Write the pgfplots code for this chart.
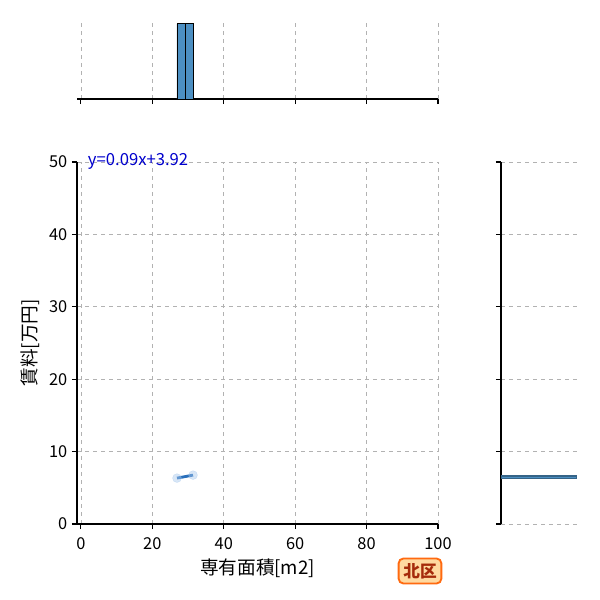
\documentclass[border=0pt]{standalone}
\usepackage{pgfplots}
\pgfplotsset{compat=1.18}
\usepackage{fontspec}
\setmainfont{Noto Sans CJK JP}
\definecolor{histblue}{HTML}{4C8FC2}
\definecolor{lineblue}{HTML}{2A6FBB}
\definecolor{ptblue}{HTML}{A8C8EC}
\definecolor{boxfill}{HTML}{FFD9A0}
\definecolor{boxedge}{HTML}{FF6A10}
\definecolor{boxtext}{HTML}{A52A0A}
\pgfplotsset{
  jp/.style={
    scale only axis,
    /pgf/number format/assume math mode=true,
    tick label style={font=\fontsize{12.3}{14}\selectfont},
    tick align=outside,
    major tick length=3.8pt,
    axis line style={-, line width=0.85pt},
    tick style={line width=0.85pt, black},
    grid style={dashed, gray!60, line width=0.5pt},
  },
}
\begin{document}
\begin{tikzpicture}
\path[use as bounding box] (0,0) rectangle (450pt,450pt);
% main scatter
\begin{axis}[jp,
  at={(57.75pt,57pt)}, anchor=south west,
  width=270.75pt, height=271.5pt,
  xmin=-1.1, xmax=100, ymin=0, ymax=50,
  axis x line*=bottom, axis y line*=left,
  xtick={0,20,40,60,80,100}, ytick={0,10,20,30,40,50},
  xticklabel style={yshift=-3pt},
  grid=major, clip=false]
  \addplot[only marks, mark=*, mark size=3.3pt, ptblue, opacity=0.45] coordinates {
    (26.9, 6.34)
    (31.4, 6.75)
  };
  \addplot[lineblue, line width=2.1pt] coordinates {
    (26.9, 6.34)
    (31.4, 6.75)
  };
  \node[anchor=west, text=blue!80!black, font=\fontsize{12.5}{14}\selectfont, inner sep=0pt]
    at (axis cs:1.9,50.1) {y=0.09x+3.92};
\end{axis}
% top histogram
\begin{axis}[jp,
  at={(57.75pt,375.75pt)}, anchor=south west,
  width=270.75pt, height=59.25pt,
  xmin=-1.1, xmax=100, ymin=0, ymax=1.05,
  axis x line*=bottom, axis y line=none,
  xtick={0,20,40,60,80,100}, xticklabels={},
  xmajorgrids]
  \addplot[ybar interval, fill=histblue, draw=black, line width=0.6pt] coordinates {
    (26.9, 1)
    (29.15, 1)
    (31.4, 1)
  };
\end{axis}
% right histogram
\begin{axis}[jp,
  at={(375.75pt,57pt)}, anchor=south west,
  width=59.25pt, height=271.5pt,
  xmin=0, xmax=1.05, ymin=0, ymax=50,
  axis y line*=left, axis x line=none,
  ytick={0,10,20,30,40,50}, yticklabels={},
  ymajorgrids]
  \addplot[xbar interval, fill=histblue, draw=histblue!70!black, line width=0.4pt] coordinates {
    (1, 6.34)
    (1, 6.545)
    (1, 6.75)
  };
\end{axis}
% labels
\node[font=\fontsize{14}{16}\selectfont] at (193.1pt,24pt) {専有面積[m2]};
\node[font=\fontsize{14}{16}\selectfont, rotate=90] at (22.5pt,192.75pt) {賃料[万円]};
\node[font=\bfseries\fontsize{12.5}{14}\selectfont, text=boxtext, fill=boxfill, draw=boxedge,
  line width=1.4pt, rounded corners=3.5pt, inner xsep=3.5pt, inner ysep=3.5pt] at (315pt,21.75pt) {北区};
\end{tikzpicture}
\end{document}
